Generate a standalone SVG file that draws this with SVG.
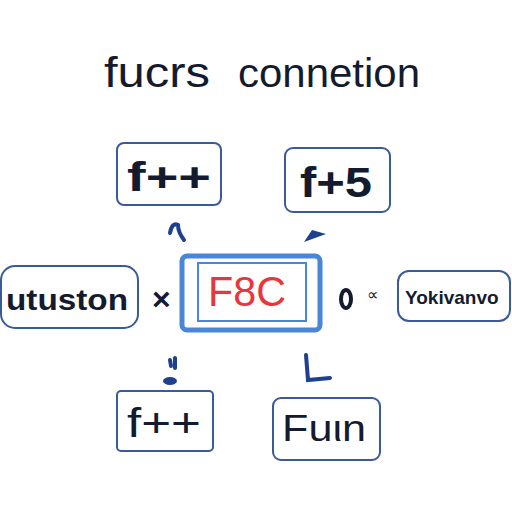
<svg xmlns="http://www.w3.org/2000/svg" width="512" height="512" viewBox="0 0 512 512">
<style>
.box{fill:#fff;stroke:#3a5a9a;stroke-width:2}
.t{font-family:"Liberation Sans","DejaVu Sans",sans-serif;fill:#141b2e}
.mark{fill:none;stroke:#1f3f8f;stroke-width:4;stroke-linecap:round}
</style>
<rect width="512" height="512" fill="#fff"/>
<g id="title">
<text class="t" x="104" y="87" font-size="42" textLength="106" lengthAdjust="spacingAndGlyphs">fucrs</text>
<text class="t" x="238" y="87" font-size="40" textLength="182" lengthAdjust="spacingAndGlyphs">connetion</text>
</g>
<g id="node-tl">
<rect class="box" x="117" y="143" width="104" height="62" rx="7"/>
<text class="t" x="127" y="191" font-size="40" font-weight="bold" textLength="84" lengthAdjust="spacingAndGlyphs">f++</text>
</g>
<g id="node-tr">
<rect class="box" x="285" y="148" width="105" height="64" rx="8"/>
<text class="t" x="300" y="197" font-size="42" font-weight="bold" textLength="72" lengthAdjust="spacingAndGlyphs">f+5</text>
</g>
<g id="node-left">
<rect class="box" x="1" y="266" width="137" height="62" rx="14"/>
<text class="t" x="6" y="310" font-size="30" font-weight="bold" textLength="122" lengthAdjust="spacingAndGlyphs">utuston</text>
</g>
<g id="node-center">
<rect x="182" y="256" width="138" height="74" rx="5" fill="#fff" stroke="#4a86d8" stroke-width="5"/>
<rect x="198" y="263" width="108" height="58" fill="#fff" stroke="#4a86d8" stroke-width="2"/>
<text x="208" y="306" font-size="42" fill="#e8363f" font-family="'Liberation Sans','DejaVu Sans',sans-serif" textLength="78" lengthAdjust="spacingAndGlyphs">F8C</text>
</g>
<g id="node-right">
<rect class="box" x="398" y="271" width="112" height="50" rx="11"/>
<text class="t" x="405" y="304" font-size="19" font-weight="bold">Yokivanvo</text>
</g>
<g id="node-bl">
<rect class="box" x="117" y="391" width="96" height="60" rx="4"/>
<text class="t" x="127" y="437" font-size="40" textLength="74" lengthAdjust="spacingAndGlyphs">f++</text>
</g>
<g id="node-br">
<rect class="box" x="273" y="398" width="107" height="62" rx="8"/>
<text class="t" x="282" y="441" font-size="36" textLength="84" lengthAdjust="spacingAndGlyphs">Fuιn</text>
</g>
<g id="connectors">
<text class="t" x="152" y="310" font-size="32" font-weight="bold">×</text>
<ellipse cx="346" cy="299" rx="5" ry="9" fill="none" stroke="#141b2e" stroke-width="4"/>
<text class="t" x="367" y="300" font-size="16">∝</text>
<path class="mark" d="M170 233 Q172 222 178 225 Q178 232 184 240"/>
<path d="M304 242 L312 230 L326 234 Z" fill="#1f3f8f"/>
<path class="mark" d="M170 360 L171 366 M175 358 L175 368"/>
<ellipse cx="170" cy="381" rx="7" ry="4" fill="#1f3f8f"/>
<path class="mark" d="M306 355 L308 380 L330 378"/>
</g>
</svg>
